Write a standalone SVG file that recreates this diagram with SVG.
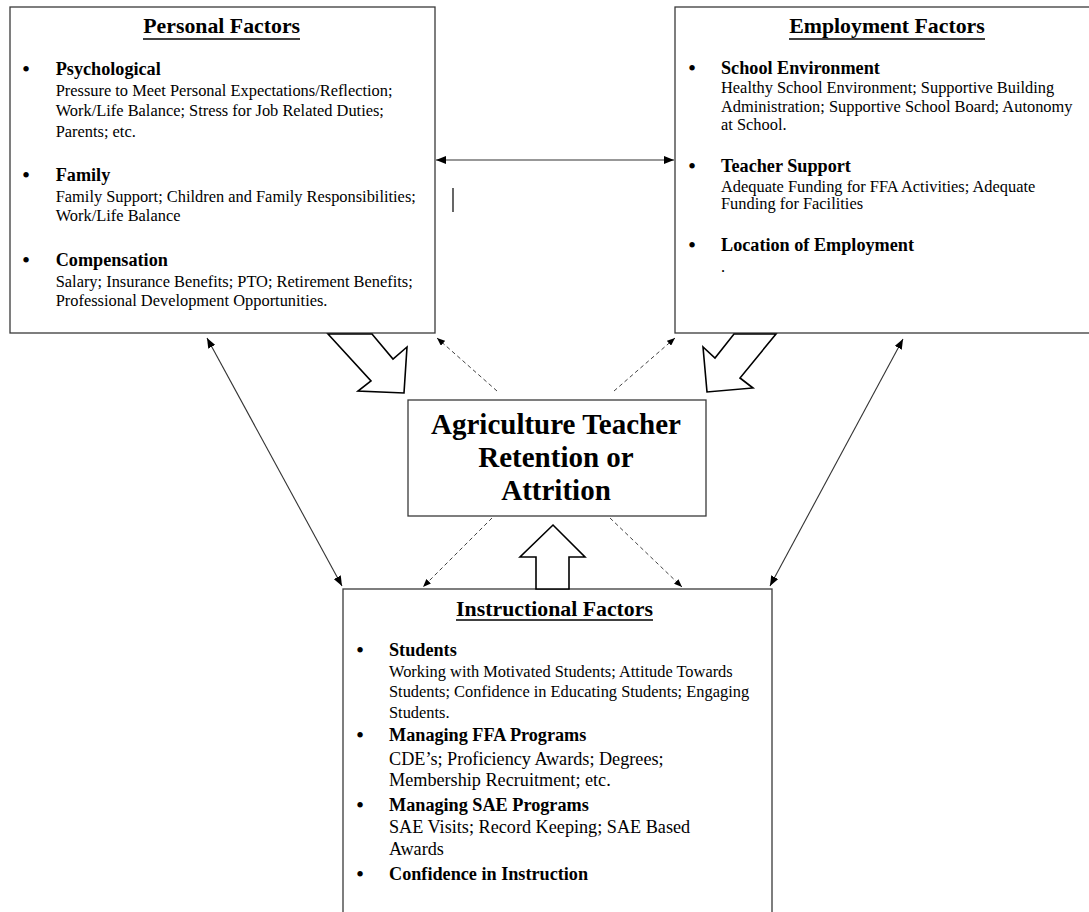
<svg xmlns="http://www.w3.org/2000/svg" width="1089" height="912" viewBox="0 0 1089 912">
<style>
  text { font-family: "Liberation Serif", "Times New Roman", serif; fill: #000; }
  .title { font-size: 21.8px; font-weight: bold; text-anchor: middle; }
  .head { font-size: 18.2px; font-weight: bold; }
  .body { font-size: 16.4px; }
  .body18 { font-size: 18.2px; }
  .bullet { font-size: 23px; text-anchor: middle; }
  .center { font-size: 29px; font-weight: bold; text-anchor: middle; }
  .box { fill: #fff; stroke: #3a3a3a; stroke-width: 1.3; }
  .ul { stroke: #000; stroke-width: 1.3; }
  .solid { stroke: #333; stroke-width: 1.1; fill: none; }
  .dashed { stroke: #444; stroke-width: 1; stroke-dasharray: 4 3; fill: none; }
  .block { fill: #fff; stroke: #000; stroke-width: 1.6; stroke-linejoin: miter; }
</style>
<defs>
  <marker id="ah" viewBox="0 0 10 8" refX="10" refY="4" markerWidth="10" markerHeight="8" markerUnits="userSpaceOnUse" orient="auto-start-reverse">
    <path d="M0,0 L10,4 L0,8 z" fill="#000"/>
  </marker>
  <marker id="ahs" viewBox="0 0 10 8" refX="10" refY="4" markerWidth="8" markerHeight="6.5" markerUnits="userSpaceOnUse" orient="auto">
    <path d="M0,0 L10,4 L0,8 z" fill="#000"/>
  </marker>
</defs>

<g id="personal-factors">
  <rect class="box" x="10" y="7" width="425" height="326"/>
  <text class="title" x="221.7" y="33">Personal Factors</text>
  <line class="ul" x1="143" y1="39" x2="300" y2="39"/>
  <text class="bullet" x="26" y="77">•</text>
  <text class="head" x="55.7" y="75">Psychological</text>
  <text class="body" x="55.7" y="95.7">Pressure to Meet Personal Expectations/Reflection;</text>
  <text class="body" x="55.7" y="116">Work/Life Balance; Stress for Job Related Duties;</text>
  <text class="body" x="55.7" y="136.7">Parents; etc.</text>
  <text class="bullet" x="26" y="182.7">•</text>
  <text class="head" x="55.7" y="180.7">Family</text>
  <text class="body" x="55.7" y="201.7">Family Support; Children and Family Responsibilities;</text>
  <text class="body" x="55.7" y="221">Work/Life Balance</text>
  <text class="bullet" x="26" y="267.7">•</text>
  <text class="head" x="55.7" y="265.7">Compensation</text>
  <text class="body" x="55.7" y="287.3">Salary; Insurance Benefits; PTO; Retirement Benefits;</text>
  <text class="body" x="55.7" y="306">Professional Development Opportunities.</text>
</g>

<g id="employment-factors">
  <rect class="box" x="675" y="7" width="430" height="326"/>
  <text class="title" x="887" y="33">Employment Factors</text>
  <line class="ul" x1="789" y1="39" x2="985" y2="39"/>
  <text class="bullet" x="692" y="76">•</text>
  <text class="head" x="721" y="74">School Environment</text>
  <text class="body" x="721" y="93.3">Healthy School Environment; Supportive Building</text>
  <text class="body" x="721" y="112">Administration; Supportive School Board; Autonomy</text>
  <text class="body" x="721" y="130">at School.</text>
  <text class="bullet" x="692" y="173.7">•</text>
  <text class="head" x="721" y="171.7">Teacher Support</text>
  <text class="body" x="721" y="191.7">Adequate Funding for FFA Activities; Adequate</text>
  <text class="body" x="721" y="209.3">Funding for Facilities</text>
  <text class="bullet" x="692" y="252.7">•</text>
  <text class="head" x="721" y="250.7">Location of Employment</text>
  <text class="body" x="721" y="271.7">.</text>
</g>

<g id="retention-attrition">
  <rect class="box" x="408" y="400" width="298" height="116"/>
  <text class="center" x="556" y="434">Agriculture Teacher</text>
  <text class="center" x="556" y="467">Retention or</text>
  <text class="center" x="556" y="500">Attrition</text>
</g>

<g id="instructional-factors">
  <rect class="box" x="343" y="589" width="429" height="340"/>
  <text class="title" x="554.5" y="616">Instructional Factors</text>
  <line class="ul" x1="456" y1="620" x2="653" y2="620"/>
  <text class="bullet" x="360" y="658">•</text>
  <text class="head" x="389" y="656">Students</text>
  <text class="body" x="389" y="677.3">Working with Motivated Students; Attitude Towards</text>
  <text class="body" x="389" y="697.3">Students; Confidence in Educating Students; Engaging</text>
  <text class="body" x="389" y="717.7">Students.</text>
  <text class="bullet" x="360" y="743.3">•</text>
  <text class="head" x="389" y="741.3">Managing FFA Programs</text>
  <text class="body18" x="389" y="765">CDE’s; Proficiency Awards; Degrees;</text>
  <text class="body18" x="389" y="785.7">Membership Recruitment; etc.</text>
  <text class="bullet" x="360" y="812.7">•</text>
  <text class="head" x="389" y="810.7">Managing SAE Programs</text>
  <text class="body18" x="389" y="833.3">SAE Visits; Record Keeping; SAE Based</text>
  <text class="body18" x="389" y="855.3">Awards</text>
  <text class="bullet" x="360" y="882">•</text>
  <text class="head" x="389" y="880">Confidence in Instruction</text>
</g>

<g id="connectors">
  <line class="solid" x1="436" y1="160" x2="674" y2="160" marker-start="url(#ah)" marker-end="url(#ah)"/>
  <line x1="453" y1="188" x2="453" y2="212" stroke="#000" stroke-width="1.2"/>
  <line class="solid" x1="207" y1="338" x2="342" y2="586" marker-start="url(#ah)" marker-end="url(#ah)"/>
  <line class="solid" x1="903" y1="339" x2="770" y2="586" marker-start="url(#ah)" marker-end="url(#ah)"/>
  <line class="dashed" x1="497" y1="391" x2="437" y2="338" marker-end="url(#ahs)"/>
  <line class="dashed" x1="614" y1="391" x2="675" y2="338" marker-end="url(#ahs)"/>
  <line class="dashed" x1="492" y1="518" x2="423" y2="587" marker-end="url(#ahs)"/>
  <line class="dashed" x1="610" y1="518" x2="682" y2="587" marker-end="url(#ahs)"/>
  <polygon class="block" points="328,334 371,381 358,391 404,393 407,347 393,359 372,334"/>
  <polygon class="block" points="776,334 740,378 753,388 707,392 703,347 715,358 734,334"/>
  <polygon class="block" points="536,589 536,557 520,557 553,525 585,557 569,557 569,589"/>
</g>
</svg>
